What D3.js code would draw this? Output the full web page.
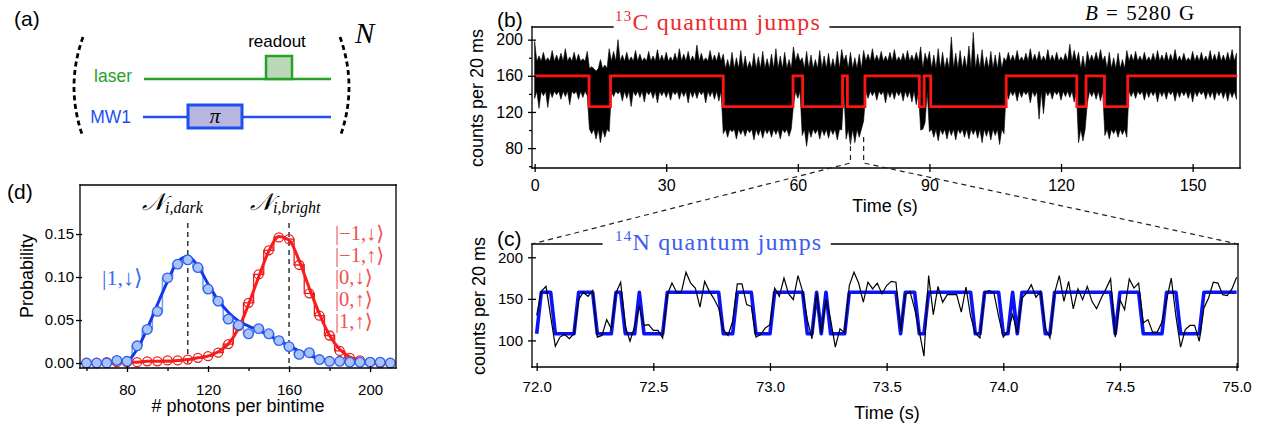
<!DOCTYPE html>
<html>
<head>
<meta charset="utf-8">
<script src="https://cdn.jsdelivr.net/npm/d3@7"></script>
<style>
  body { margin: 0; background: #fff; }
  svg { display: block; }
</style>
</head>
<body>
<div id="figure"></div>
<script>
// ---------- values ----------

// (b) 13C trace, one value per second from t = 0 s: upper / lower tip of the raw counts
const c13Hi = [
  198,182,186,180,188,183,185,190,181,186,184,179,187,170,165,178,172,190,187,200,
  183,186,181,188,184,180,187,182,189,183,186,181,185,190,184,187,182,194,185,180,
  188,183,186,184,178,186,180,188,182,176,185,181,187,179,184,190,182,186,178,192,
  185,180,187,183,178,188,182,185,179,187,189,183,186,180,184,188,184,190,183,187,
  182,186,189,181,185,188,183,186,192,185,187,183,190,186,180,203,185,188,182,193,
  208,184,189,181,187,183,186,180,186,183,188,181,185,190,184,187,182,189,183,186,
  181,185,195,188,186,182,187,183,186,189,182,186,180,185,178,188,184,187,182,186,
  181,185,188,183,186,184,189,182,185,180,187,183,186,182,188,184,187,183,186,189,185
];
const c13Lo = [
  135,124,138,125,136,139,134,137,128,140,134,136,138,96,90,86,92,98,137,140,
  132,135,126,138,136,131,139,135,130,138,136,133,139,134,137,130,136,135,139,130,
  137,134,132,96,92,98,90,95,93,97,89,94,91,96,92,95,90,97,93,127,
  135,94,82,92,96,90,94,91,95,89,100,90,84,86,92,110,135,138,133,139,
  130,136,134,138,132,136,131,128,100,108,98,92,88,95,90,94,89,96,92,90,
  95,91,86,93,89,94,84,96,134,138,132,136,139,130,137,112,118,138,134,139,
  133,137,136,131,86,88,130,137,134,132,94,90,96,92,95,92,137,135,139,133,
  136,138,131,137,134,139,132,136,138,135,131,137,139,134,136,133,138,135,132,136,134
];
// dense part of the trace for the dark / bright 13C state [low, high]
const c13Core = [[101, 168], [143, 176]];
// (b) fitted 13C state: segment start times (s), state (1 = bright), level of each state
const c13Starts = [0, 12.4, 17.3, 43.0, 58.9, 61.1, 70.2, 71.3, 75.3, 87.7, 88.8, 90.3, 107.5, 123.6, 125.7, 129.9, 135.2];
const c13States = [1, 0, 1, 0, 1, 0, 1, 0, 1, 0, 1, 0, 1, 0, 1, 0, 1];
const c13End = 160.2;
const c13Levels = [126, 160];
const c13Ticks = [0, 30, 60, 90, 120, 150];

// (c) 14N quantum jumps, 20 ms samples from 72.0 s
const n14Start = 72.0;
const n14Step = 0.02;
const n14Counts = [
  130,159,165,129,93,104,107,102,108,149,158,153,160,104,106,125,114,157,170,117,99,117,141,118,119,
  112,112,103,155,169,158,158,182,169,163,140,171,159,150,139,113,106,123,168,168,143,141,104,107,115,
  119,163,153,175,156,149,178,159,125,102,157,109,149,125,92,114,109,166,182,169,146,170,162,169,156,
  166,171,170,111,155,159,138,111,81,178,131,165,146,155,155,155,134,164,129,109,103,158,160,157,129,
  104,111,131,109,151,157,167,152,159,115,103,157,178,147,171,138,162,149,165,147,138,151,162,174,104,
  149,137,174,163,169,121,125,110,110,122,149,175,129,92,113,118,118,99,139,151,170,169,155,154,162,176
];
const n14States = [
  0,1,1,1,0,0,0,0,0,1,1,1,1,0,0,0,0,1,1,0,0,0,1,0,0,
  0,0,0,1,1,1,1,1,1,1,1,1,1,1,1,0,0,0,1,1,1,1,0,0,0,
  0,1,1,1,1,1,1,1,0,0,1,0,1,0,0,0,0,1,1,1,1,1,1,1,1,
  1,1,1,0,1,1,1,0,0,1,1,1,1,1,1,1,1,1,1,0,0,1,1,1,1,
  0,0,1,0,1,1,1,1,1,0,0,1,1,1,1,1,1,1,1,1,1,1,1,1,0,
  1,1,1,1,1,0,0,0,0,0,1,1,1,0,0,0,0,0,1,1,1,1,1,1,1,1
];
const n14Levels = [108, 158];
const n14Ticks = [72, 72.5, 73, 73.5, 74, 74.5, 75];

// (d) photon-count histograms
const photonBins = [60,65,70,75,80,85,90,95,100,105,110,115,120,125,130,135,140,145,150,155,160,165,170,175,180,185,190,195,200,205,210];
const darkHist = [0,0,0,0.003,0.002,0.020,0.039,0.060,0.099,0.115,0.120,0.111,0.086,0.072,0.051,0.044,0.034,0.040,0.034,0.026,0.019,0.010,0.012,0.004,0.002,0.002,0.001,0.001,0.001,0.001,0];
const brightHist = [0,0,0.001,0.001,0.001,0.001,0.002,0.002,0.003,0.003,0.004,0.006,0.008,0.012,0.022,0.043,0.070,0.103,0.131,0.146,0.144,0.114,0.081,0.055,0.032,0.014,0.006,0.003,0.001,0,0];
const darkFit = [0,0,0,0,0.002,0.016,0.040,0.068,0.095,0.118,0.124,0.113,0.092,0.073,0.059,0.049,0.043,0.038,0.032,0.026,0.020,0.014,0.009,0.005,0.003,0.0015,0.0007,0.0003,0,0,0];
const brightFit = [0,0,0,0.001,0.001,0.001,0.002,0.002,0.002,0.003,0.004,0.006,0.008,0.013,0.022,0.040,0.068,0.100,0.130,0.147,0.143,0.119,0.087,0.057,0.032,0.016,0.007,0.003,0.001,0,0];
const thresholds = [110, 160];
const darkKet = "|1,↓⟩";
const brightKets = ["|−1,↓⟩", "|−1,↑⟩", "|0,↓⟩", "|0,↑⟩", "|1,↑⟩"];

// ---------- drawing ----------
const sans = "'Liberation Sans', Arial, Helvetica, sans-serif";
const serif = "'Liberation Serif', 'Times New Roman', 'DejaVu Serif', serif";

const svg = d3.select("#figure").append("svg")
  .attr("width", 1270)
  .attr("height", 428)
  .style("background", "#fff");

function styleAxis(g, size) {
  g.attr("font-family", sans).attr("font-size", size);
  g.select(".domain").remove();
  g.selectAll(".tick line").attr("stroke", "#000").attr("stroke-width", 1.3);
  g.selectAll(".tick text").attr("fill", "#000");
}

// box round a plot; the top edge may leave a gap for a title
function frame(g, x, y, gap) {
  const [x0, x1] = x.range();
  const [yb, yt] = y.range();
  const segs = [[x0, yt, x0, yb], [x0, yb, x1, yb], [x1, yb, x1, yt]];
  if (gap) segs.push([x0, yt, gap[0], yt], [gap[1], yt, x1, yt]);
  else segs.push([x0, yt, x1, yt]);
  g.selectAll(null).data(segs).join("line")
    .attr("x1", d => d[0]).attr("y1", d => d[1])
    .attr("x2", d => d[2]).attr("y2", d => d[3])
    .attr("stroke", "#000").attr("stroke-width", 1.3)
    .attr("stroke-linecap", "square");
}

function panelLabel(x, y, s) {
  svg.append("text").attr("x", x).attr("y", y)
    .attr("font-family", sans).attr("font-size", 21).text(s);
}

function axisTitle(g, x, y, s, rotate) {
  g.append("text")
    .attr("transform", `translate(${x},${y})` + (rotate ? " rotate(-90)" : ""))
    .attr("dy", rotate ? "0.35em" : 0)
    .attr("text-anchor", "middle")
    .attr("font-family", sans).attr("font-size", 18)
    .text(s);
}

// ----- (a) pulse sequence -----
const ga = svg.append("g");
panelLabel(14, 26, "(a)");
const parens = ga.append("g").attr("fill", "none").attr("stroke", "#000")
  .attr("stroke-width", 2.8).attr("stroke-dasharray", "5,3.5");
parens.append("path").attr("d", "M83,37 Q65,87 83,137");
parens.append("path").attr("d", "M340,37 Q358,87 340,137");
ga.append("text").attr("x", 355).attr("y", 43)
  .attr("font-family", serif).attr("font-style", "italic").attr("font-size", 29).text("N");

const green = "#27a127", mwBlue = "#1f4ff0";
ga.append("text").attr("x", 132).attr("y", 82).attr("text-anchor", "end")
  .attr("font-family", sans).attr("font-size", 17.5).attr("fill", green).text("laser");
ga.append("line").attr("x1", 144).attr("x2", 331).attr("y1", 79).attr("y2", 79)
  .attr("stroke", green).attr("stroke-width", 2.5);
ga.append("rect").attr("x", 266).attr("y", 56).attr("width", 26).attr("height", 23)
  .attr("fill", "#bcd8b8").attr("stroke", green).attr("stroke-width", 2.5);
ga.append("text").attr("x", 277).attr("y", 47).attr("text-anchor", "middle")
  .attr("font-family", sans).attr("font-size", 17).text("readout");

ga.append("text").attr("x", 131).attr("y", 123).attr("text-anchor", "end")
  .attr("font-family", sans).attr("font-size", 17.5).attr("fill", mwBlue).text("MW1");
ga.append("line").attr("x1", 143).attr("x2", 331).attr("y1", 117).attr("y2", 117)
  .attr("stroke", mwBlue).attr("stroke-width", 2.5);
ga.append("rect").attr("x", 188).attr("y", 105).attr("width", 54).attr("height", 23)
  .attr("fill", "#b6b6de").attr("stroke", mwBlue).attr("stroke-width", 3);
ga.append("text").attr("x", 215).attr("y", 123).attr("text-anchor", "middle")
  .attr("font-family", serif).attr("font-style", "italic").attr("font-size", 21).text("π");

// ----- (b) 13C quantum jumps -----
panelLabel(497, 27, "(b)");
const bx = d3.scaleLinear().domain([-0.6, 160.8]).range([532, 1240]);
const by = d3.scaleLinear().domain([58, 214]).range([168, 27]);
const gb = svg.append("g");

gb.append("clipPath").attr("id", "clipB").append("rect")
  .attr("x", 532).attr("y", 27).attr("width", 708).attr("height", 141);

// raw trace: tips at each second, dense core of the current state in between
const stateAt = t => c13States[d3.bisectRight(c13Starts, t) - 1];
const bandPts = [];
c13Hi.forEach((h, i) => {
  bandPts.push([i, c13Lo[i], h]);
  if (i < c13Hi.length - 1) {
    const core = c13Core[stateAt(i + 0.5)];
    bandPts.push([i + 0.5, core[0], core[1]]);
  }
});
gb.append("path").datum(bandPts)
  .attr("d", d3.area().x(d => bx(d[0])).y0(d => by(d[1])).y1(d => by(d[2])))
  .attr("fill", "#000").attr("stroke", "#000").attr("stroke-width", 0.6)
  .attr("clip-path", "url(#clipB)");

const c13Pts = c13Starts.map((t, i) => [t, c13Levels[c13States[i]]])
  .concat([[c13End, c13Levels[c13States[c13States.length - 1]]]]);
gb.append("path").datum(c13Pts)
  .attr("d", d3.line().x(d => bx(d[0])).y(d => by(d[1])).curve(d3.curveStepAfter))
  .attr("fill", "none").attr("stroke", "#ff1414").attr("stroke-width", 2.8);

const bxAxis = gb.append("g").attr("transform", `translate(0,${by.range()[0]})`)
  .call(d3.axisBottom(bx).tickValues(c13Ticks).tickSize(4).tickPadding(8));
styleAxis(bxAxis, 16);
bxAxis.selectAll(".tick line").attr("y1", -4);
const byAxis = gb.append("g").attr("transform", `translate(${bx.range()[0]},0)`)
  .call(d3.axisLeft(by).tickValues([80, 120, 160, 200]).tickSize(4).tickPadding(5));
styleAxis(byAxis, 16);
byAxis.selectAll(".tick line").attr("x1", 4);
const byMinor = gb.append("g").attr("transform", `translate(${bx.range()[0]},0)`)
  .call(d3.axisLeft(by).tickValues([60, 100, 140, 180]).tickSize(3).tickFormat(""));
styleAxis(byMinor, 16);

const tb = gb.append("text").attr("x", 615).attr("y", 30)
  .attr("font-family", serif).attr("font-size", 24).attr("fill", "#ee2a2a")
  .attr("letter-spacing", 1.2);
tb.append("tspan").attr("font-size", 15).attr("dy", -9).text("13");
tb.append("tspan").attr("dy", 9).text("C quantum jumps");
const tbb = tb.node().getBBox();
frame(gb, bx, by, [tbb.x - 2, tbb.x + tbb.width + 9]);

const bLab = gb.append("text").attr("x", 1195).attr("y", 20).attr("text-anchor", "end")
  .attr("font-family", serif).attr("font-size", 21)
  .attr("letter-spacing", 0.8).attr("word-spacing", 1.5);
bLab.append("tspan").attr("font-style", "italic").text("B");
bLab.append("tspan").text(" = 5280 G");

axisTitle(gb, 477, 98, "counts per 20 ms", true);
axisTitle(gb, 885, 212, "Time (s)", false);

// ----- (c) 14N quantum jumps -----
panelLabel(497, 246, "(c)");
const cx = d3.scaleLinear().domain([71.98, 75.006]).range([532, 1238]);
const cy = d3.scaleLinear().domain([68, 216]).range([367, 244]);
const gc = svg.append("g");

// zoom connectors from (b) to (c)
const zA = bx(n14Start), zB = bx(n14Start + n14Step * (n14Counts.length - 1));
const zTop = by.range()[0] - 31, zBot = by.range()[0] - 5;
const conn = [
  [[zA, zTop], [zA, zBot], [cx.range()[0], cy.range()[1]]],
  [[zB, zTop], [zB, zBot], [cx.range()[1], cy.range()[1]]]
];
svg.selectAll(null).data(conn).join("path")
  .attr("d", d3.line())
  .attr("fill", "none").attr("stroke", "#222").attr("stroke-width", 1.2)
  .attr("stroke-dasharray", "5,4");

const tOf = i => n14Start + i * n14Step;
gc.append("path").datum(n14States)
  .attr("d", d3.line().x((d, i) => cx(tOf(i))).y(d => cy(n14Levels[d])))
  .attr("fill", "none").attr("stroke", "#0a14f5").attr("stroke-width", 3.6)
  .attr("stroke-linejoin", "round");
gc.append("path").datum(n14Counts)
  .attr("d", d3.line().x((d, i) => cx(tOf(i))).y(d => cy(d)))
  .attr("fill", "none").attr("stroke", "#000").attr("stroke-width", 1.2);

const cxAxis = gc.append("g").attr("transform", `translate(0,${cy.range()[0]})`)
  .call(d3.axisBottom(cx).tickValues(n14Ticks).tickFormat(d3.format(".1f")).tickSize(4).tickPadding(10));
styleAxis(cxAxis, 15);
cxAxis.selectAll(".tick line").attr("y1", -4);
const cyAxis = gc.append("g").attr("transform", `translate(${cx.range()[0]},0)`)
  .call(d3.axisLeft(cy).tickValues([100, 150, 200]).tickSize(4).tickPadding(5));
styleAxis(cyAxis, 15);
cyAxis.selectAll(".tick line").attr("x1", 4);

const tc = gc.append("text").attr("x", 615).attr("y", 250)
  .attr("font-family", serif).attr("font-size", 24).attr("fill", "#3a5cf0")
  .attr("letter-spacing", 1.2);
tc.append("tspan").attr("font-size", 15).attr("dy", -9).text("14");
tc.append("tspan").attr("dy", 9).text("N quantum jumps");
const tcb = tc.node().getBBox();
frame(gc, cx, cy, [tcb.x - 13, tcb.x + tcb.width + 9]);

axisTitle(gc, 479, 306, "counts per 20 ms", true);
axisTitle(gc, 887, 419, "Time (s)", false);

// ----- (d) histograms -----
panelLabel(7, 199, "(d)");
const dx = d3.scaleLinear().domain([56.8, 212.8]).range([80, 396]);
const dy = d3.scaleLinear().domain([-0.0058, 0.207]).range([368, 185]);
const gd = svg.append("g");

const stepLine = d3.line().x((d, i) => dx(photonBins[i])).y(d => dy(d)).curve(d3.curveStep);
const fitLine = d3.line().x((d, i) => dx(photonBins[i])).y(d => dy(d)).curve(d3.curveMonotoneX);

gd.selectAll(null).data(thresholds).join("line")
  .attr("x1", d => dx(d)).attr("x2", d => dx(d))
  .attr("y1", dy(0)).attr("y2", dy(0.165))
  .attr("stroke", "#333").attr("stroke-width", 1.5).attr("stroke-dasharray", "5,4");

gd.append("path").datum(darkHist).attr("d", stepLine)
  .attr("fill", "none").attr("stroke", "#6e9cf4").attr("stroke-width", 1.5);
gd.append("path").datum(brightHist).attr("d", stepLine)
  .attr("fill", "none").attr("stroke", "#e41e1e").attr("stroke-width", 1.3);
gd.append("path").datum(darkFit).attr("d", fitLine)
  .attr("fill", "none").attr("stroke", "#1538e6").attr("stroke-width", 3);
gd.append("path").datum(brightFit).attr("d", fitLine)
  .attr("fill", "none").attr("stroke", "#ff1a1a").attr("stroke-width", 3);

gd.selectAll("circle.bright").data(brightHist).join("circle")
  .attr("class", "bright")
  .attr("cx", (d, i) => dx(photonBins[i])).attr("cy", d => dy(d)).attr("r", 4.5)
  .attr("fill", "none").attr("stroke", "#e42222").attr("stroke-width", 1.3);
gd.selectAll("circle.dark").data(darkHist).join("circle")
  .attr("class", "dark")
  .attr("cx", (d, i) => dx(photonBins[i])).attr("cy", d => dy(d)).attr("r", 4.8)
  .attr("fill", "#a9c3f7").attr("stroke", "#2d5ff0").attr("stroke-width", 1.3);

const dxAxis = gd.append("g").attr("transform", `translate(0,${dy.range()[0]})`)
  .call(d3.axisBottom(dx).tickValues([80, 120, 160, 200]).tickSize(4).tickPadding(12));
styleAxis(dxAxis, 15);
dxAxis.selectAll(".tick line").attr("y1", -2);
const dxMinor = gd.append("g").attr("transform", `translate(0,${dy.range()[0]})`)
  .call(d3.axisBottom(dx).tickValues([60, 100, 140, 180]).tickSize(3).tickFormat(""));
styleAxis(dxMinor, 15);
const dyAxis = gd.append("g").attr("transform", `translate(${dx.range()[0]},0)`)
  .call(d3.axisLeft(dy).tickValues([0, 0.05, 0.10, 0.15]).tickFormat(d3.format(".2f")).tickSize(4).tickPadding(2));
styleAxis(dyAxis, 15);
dyAxis.selectAll(".tick line").attr("x1", 2);
frame(gd, dx, dy, null);

// state labels
const nLab = (x, sub) => {
  const t = gd.append("text").attr("x", x).attr("y", 210).attr("font-family", serif);
  t.append("tspan").attr("font-size", 24).attr("font-style", "italic")
    .attr("font-family", "'DejaVu Serif', 'DejaVu Sans', serif").text("𝒩");
  t.append("tspan").attr("font-size", 16).attr("font-style", "italic").attr("dy", 3).text(sub);
};
nLab(142, "i,dark");
nLab(250, "i,bright");

gd.append("text").attr("x", 102).attr("y", 285)
  .attr("font-family", serif).attr("font-size", 22).attr("fill", "#3a6cf0").text(darkKet);
gd.selectAll("text.ket").data(brightKets).join("text")
  .attr("class", "ket")
  .attr("x", 335).attr("y", (d, i) => 240 + 22 * i)
  .attr("font-family", serif).attr("font-size", 20.5).attr("fill", "#f05050")
  .text(d => d);

axisTitle(gd, 27, 276, "Probability", true);
axisTitle(gd, 238, 412, "# photons per bintime", false);
</script>
</body>
</html>
